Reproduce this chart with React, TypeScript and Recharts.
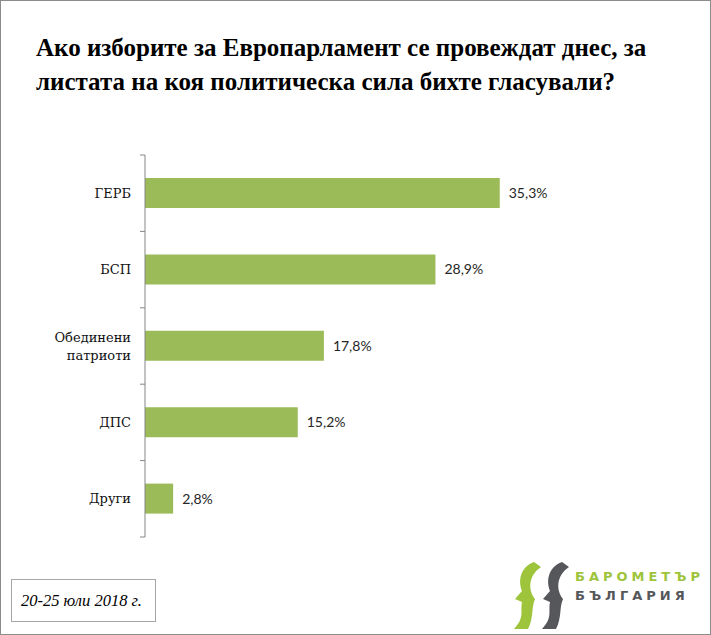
import React from 'react';
import { BarChart, Bar, XAxis, YAxis, LabelList } from 'recharts';

const parties = ['ГЕРБ', 'БСП', 'Обединени патриоти', 'ДПС', 'Други'];
const shares = [35.3, 28.9, 17.8, 15.2, 2.8];

const data = parties.map((name, i) => ({ name, value: shares[i] }));

const TOP = 155;
const BOTTOM = 537;
const BAND = (BOTTOM - TOP) / parties.length;

const PartyTick = (props: any) => {
  const { x, y, payload, index } = props;
  const axisX = x + 8;
  const words = String(payload.value).split(' ');
  return (
    <g>
      <line x1={axisX - 5} x2={axisX} y1={y - BAND / 2} y2={y - BAND / 2} stroke="#868686" />
      {index === parties.length - 1 && (
        <line x1={axisX - 5} x2={axisX} y1={y + BAND / 2} y2={y + BAND / 2} stroke="#868686" />
      )}
      <text
        x={axisX - 14}
        y={y}
        textAnchor="end"
        style={{ fontFamily: "'DejaVu Serif', serif", fontSize: 13, fill: '#111' }}
      >
        {words.length === 1 ? (
          <tspan x={axisX - 14} dy="0.35em">{words[0]}</tspan>
        ) : (
          words.map((w, i) => (
            <tspan key={w} x={axisX - 14} dy={i === 0 ? '-0.3em' : '1.4em'}>
              {w}
            </tspan>
          ))
        )}
      </text>
    </g>
  );
};

const fmt = (v: any) => Number(v).toFixed(1).replace('.', ',') + '%';

const Logo = () => (
  <svg width={711} height={635} style={{ position: 'absolute', left: 0, top: 0, pointerEvents: 'none' }}>
    <path
      d="M533 561 C519 566 517 580 521 590 L514 598 L521 601 C519 611 524 616 513 628 L527 628 C533 616 530 607 534 598 C527 589 527 575 540 566 Z"
      fill="#9dc43a"
    />
    <path
      d="M561 561 C547 566 545 580 549 590 L542 598 L549 601 C547 611 552 616 541 628 L555 628 C561 616 558 607 562 598 C555 589 555 575 568 566 Z"
      fill="#55575a"
    />
    <text x={574} y={580} fontFamily="'DejaVu Sans', sans-serif" fontWeight="bold" fontSize={13} letterSpacing={4} fill="#9dc43a">
      БАРОМЕТЪР
    </text>
    <text x={574} y={599} fontFamily="'DejaVu Sans', sans-serif" fontWeight="bold" fontSize={13} letterSpacing={4} fill="#55575a">
      БЪЛГАРИЯ
    </text>
  </svg>
);

export default function App() {
  return (
    <div
      style={{
        position: 'absolute',
        left: 0,
        top: 0,
        width: 711,
        height: 635,
        boxSizing: 'border-box',
        border: '1px solid #8c8c8c',
        background: '#fff',
      }}
    >
      <div
        style={{
          position: 'absolute',
          left: 35,
          top: 30,
          fontFamily: "'Liberation Serif', serif",
          fontWeight: 'bold',
          fontSize: 25,
          lineHeight: '34px',
          color: '#000',
          whiteSpace: 'nowrap',
        }}
      >
        Ако изборите за Европарламент се провеждат днес, за
        <br />
        листата на коя политическа сила бихте гласували?
      </div>
      <div style={{ position: 'absolute', left: -1, top: -1 }}>
        <BarChart
          width={711}
          height={635}
          layout="vertical"
          data={data}
          margin={{ top: TOP, bottom: 635 - BOTTOM, left: 10, right: 164 }}
        >
          <XAxis type="number" domain={[0, 40]} hide />
          <YAxis
            type="category"
            dataKey="name"
            width={135}
            axisLine={{ stroke: '#868686' }}
            tickLine={false}
            tick={<PartyTick />}
            interval={0}
          />
          <Bar dataKey="value" fill="#9bbb59" barSize={30} isAnimationActive={false}>
            <LabelList
              dataKey="value"
              position="right"
              offset={9}
              formatter={fmt}
              style={{ fontFamily: 'Lato, sans-serif', fontSize: 14, fill: '#262626' }}
            />
          </Bar>
        </BarChart>
      </div>
      <div
        style={{
          position: 'absolute',
          left: 10,
          top: 578,
          width: 145,
          height: 43,
          boxSizing: 'border-box',
          border: '1px solid #a6a6a6',
          fontFamily: "'Liberation Serif', serif",
          fontStyle: 'italic',
          fontSize: 16.5,
          lineHeight: '41px',
          paddingLeft: 9,
          color: '#000',
        }}
      >
        20-25 юли 2018 г.
      </div>
      <Logo />
    </div>
  );
}
